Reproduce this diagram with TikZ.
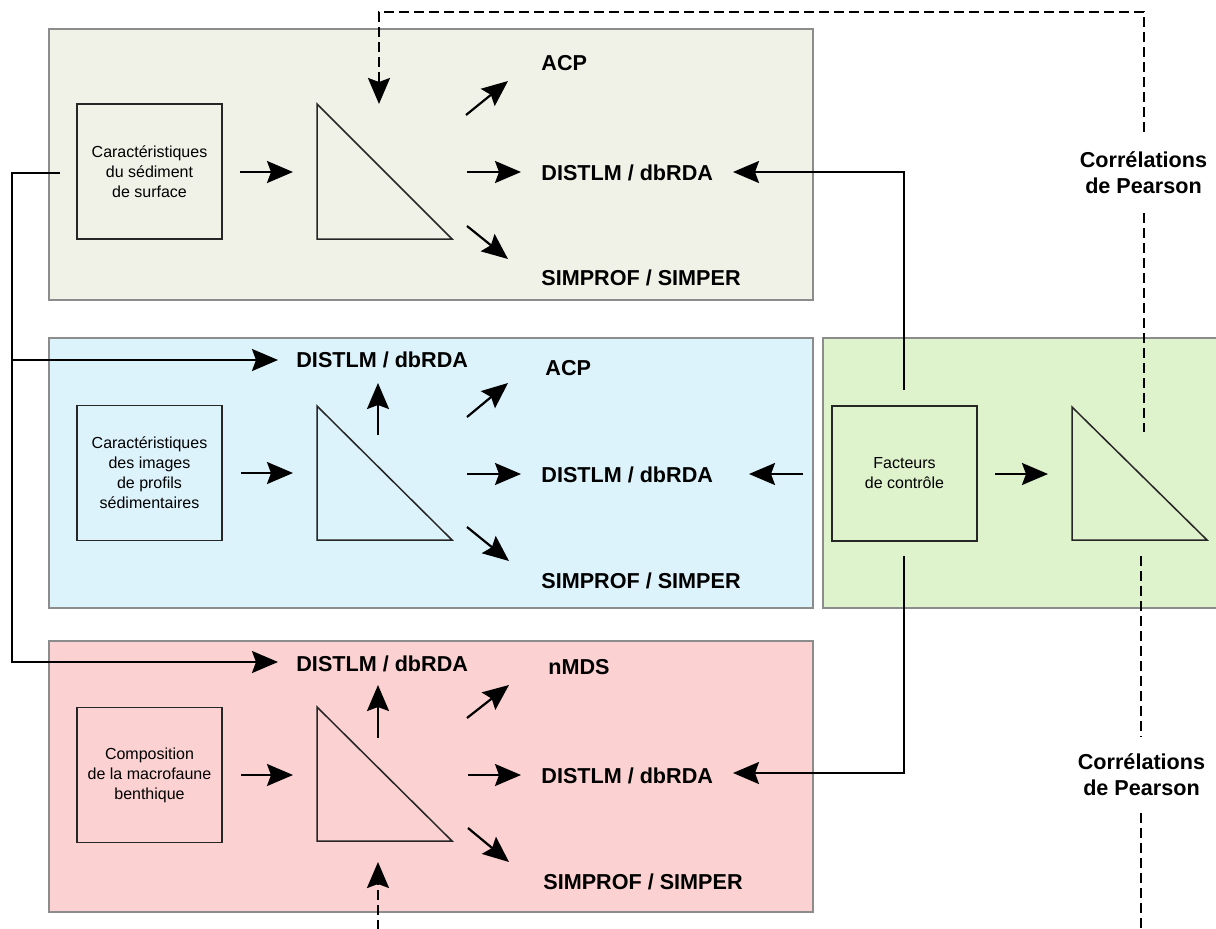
\documentclass[tikz,border=0pt]{standalone}
\usepackage{fontspec}
\setmainfont{Liberation Sans}
\usetikzlibrary{arrows.meta}
\definecolor{topfill}{RGB}{241,242,231}
\definecolor{bluefill}{RGB}{220,243,251}
\definecolor{greenfill}{RGB}{222,242,204}
\definecolor{pinkfill}{RGB}{252,209,209}
\definecolor{panelgray}{RGB}{140,140,140}
\begin{document}
\begin{tikzpicture}[x=0.5pt,y=-0.5pt,
  panel/.style={draw=panelgray, line width=1pt, inner sep=0pt},
  box/.style={draw=black!85, line width=0.75pt, minimum width=72.5pt, minimum height=67.5pt, inner sep=0pt, align=center, font=\fontsize{8}{10}\selectfont},
  lbl/.style={font=\fontsize{10.8}{13}\selectfont\bfseries, anchor=base west, inner sep=0pt},
  lblc/.style={font=\fontsize{10.8}{13}\selectfont\bfseries, anchor=base, inner sep=0pt},
  tri/.style={draw=black!85, line width=0.75pt},
  tip/.style={-{Stealth[length=13pt, width=11pt, inset=2pt]}},
  arr/.style={line width=1.1pt, tip},
  plain/.style={line width=1.1pt},
  dashline/.style={line width=1.25pt, dash pattern=on 5pt off 2.5pt}
]
\useasboundingbox (0,0) rectangle (1216,928);

% panels
\node[panel, fill=topfill, minimum width=382pt, minimum height=135.5pt] (P1) at (431,164.5) {};
\node[panel, fill=bluefill, minimum width=382pt, minimum height=135pt] (P2) at (431,473) {};
\node[panel, fill=pinkfill, minimum width=382pt, minimum height=135.5pt] (P3) at (431,776.5) {};
\node[panel, fill=greenfill, minimum width=199.5pt, minimum height=135pt] (P4) at (1022.5,473) {};

% boxes
\node[box] (b1) at (149.5,171.5) {Caractéristiques\\du sédiment\\de surface};
\node[box] (b2) at (149.5,473) {Caractéristiques\\des images\\de profils\\sédimentaires};
\node[box] (b3) at (149.5,775) {Composition\\de la macrofaune\\benthique};
\node[box] (bf) at (904.5,473.5) {Facteurs\\de contrôle};

% triangles
\draw[tri] (317,104) coordinate (t1) -- (317,239) -- (452,239) -- cycle;
\draw[tri] (317,406) coordinate (t2) -- (317,540) -- (452,540) -- cycle;
\draw[tri] (317,707) coordinate (t3) -- (317,841) -- (452,841) -- cycle;
\draw[tri] (1072,407) coordinate (t4) -- (1072,540) -- (1207,540) -- cycle;

% labels
\node[lbl] (acp1) at (541,70) {ACP};
\node[lbl] (dist1) at (541,180) {DISTLM / dbRDA};
\node[lbl] (simp1) at (541,285) {SIMPROF / SIMPER};
\node[lbl] (dtop2) at (296,367) {DISTLM / dbRDA};
\node[lbl] (acp2) at (545,375) {ACP};
\node[lbl] (dist2) at (541,482) {DISTLM / dbRDA};
\node[lbl] (simp2) at (541,588) {SIMPROF / SIMPER};
\node[lbl] (dtop3) at (296,671) {DISTLM / dbRDA};
\node[lbl] (nmds3) at (548,674) {nMDS};
\node[lbl] (dist3) at (541,783) {DISTLM / dbRDA};
\node[lbl] (simp3) at (543,889) {SIMPROF / SIMPER};
\node[lblc] (pa1) at (1143.5,167) {Corrélations};
\node[lblc] (pb1) at (1143.5,193) {de Pearson};
\node[lblc] (pa2) at (1141.5,769) {Corrélations};
\node[lblc] (pb2) at (1141.5,795) {de Pearson};

% top panel arrows
\draw[arr] (240,172) -- (293,172);
\draw[arr] (466,115) -- (508,81);
\draw[arr] (467,172) -- (521,172);
\draw[arr] (467,226) -- (508,259);
\draw[arr] (904,390) -- (904,172) -- (733,172);

% middle panel arrows
\draw[arr] (241,473) -- (293,473);
\draw[arr] (378,435) -- (378,383);
\draw[arr] (467,417) -- (508,383);
\draw[arr] (467,474) -- (521,474);
\draw[arr] (467,527) -- (509,561);
\draw[arr] (803,474) -- (749,474);

% green panel
\draw[arr] (995,474) -- (1048,474);

% bottom panel arrows
\draw[arr] (241,775) -- (293,775);
\draw[arr] (378,738) -- (378,685);
\draw[arr] (467,718) -- (509,685);
\draw[arr] (468,775) -- (521,775);
\draw[arr] (468,828) -- (509,862);
\draw[arr] (904,556) -- (904,773) -- (733,773);

% left connector
\draw[arr] (60,173) -- (12,173) -- (12,662) -- (278,662);
\draw[arr] (12,360) -- (278,360);

% dashed Pearson connectors
\draw[dashline, tip] (1144,132) -- (1144,12) -- (379,12) -- (379,104);
\draw[dashline] (1144,213) -- (1144,432);
\draw[dashline] (1141,556) -- (1141,737);
\draw[dashline] (1141,813) -- (1141,930);
\draw[dashline, tip] (378,930) -- (378,862);
\end{tikzpicture}
\end{document}
